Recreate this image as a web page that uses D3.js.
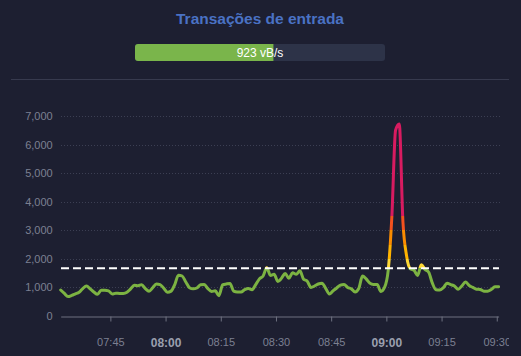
<!DOCTYPE html>
<html>
<head>
<meta charset="utf-8">
<script src="https://cdn.jsdelivr.net/npm/d3@7"></script>
<style>
  html, body { margin: 0; padding: 0; background: #1d1f31; }
  svg { display: block; }
  text { font-family: "Liberation Sans", Arial, Helvetica, sans-serif; }
</style>
</head>
<body>
<svg id="chart" width="521" height="356"></svg>
<script>
// ---- Data ----
const titleText = "Transações de entrada";
const currentRateLabel = "923 vB/s";
const currentRate = 923;
const rateMax = 1667;          // full-bar value (bar is ~55% full)
const thresholdValue = 1667;   // dashed mark line
const startTime = "07:31:30";  // first sample, one sample per minute
const values = [
  910, 790, 680, 720, 775, 830, 960, 1050, 950, 840,
  760, 900, 900, 880, 770, 800, 790, 790, 830, 950,
  1080, 1060, 1095, 960, 870, 990, 1120, 1100, 970, 830,
  870, 1100, 1430, 1400, 1190, 990, 950, 980, 1090, 1100,
  960, 860, 880, 710, 1090, 1120, 1140, 870, 840, 840,
  920, 960, 920, 1100, 1300, 1400, 1690, 1420, 1460, 1210,
  1320, 1490, 1320, 1510, 1460, 1580, 1290, 1220, 1000, 1050,
  1120, 1150, 970, 770, 880, 980, 1080, 1100, 1000, 950,
  840, 960, 1400, 1300, 1150, 1100, 1100, 860, 1000, 1600,
  3500, 6500, 6720, 3300, 2100, 1650, 1600, 1420, 1790, 1630,
  1530, 1150, 920, 910, 990, 1150, 1100, 1050, 940, 1050,
  1190, 1070, 1000, 940, 930, 870, 870, 930, 1020, 1025
];
const yTicks = [0, 1000, 2000, 3000, 4000, 5000, 6000, 7000];
const xTickLabels = ["07:45", "08:00", "08:15", "08:30", "08:45", "09:00", "09:15", "09:30"];
const boldTickLabels = ["08:00", "09:00"];
const pieceBounds = [0, 1667, 2000, 2500, 3000, 3500, 7000];
const pieceColors = ["#7CB342", "#FDD835", "#FFB300", "#FB8C00", "#F4511E", "#D81B60"];

// ---- Setup ----
const svg = d3.select("#chart");
const parse = d3.timeParse("%Y-%m-%d %H:%M:%S");
const t0 = parse("2024-01-01 " + startTime);
const data = values.map((v, i) => ({ t: new Date(t0.getTime() + i * 60000), v }));

const x = d3.scaleTime()
  .domain([t0, data[data.length - 1].t])
  .range([60.7, 498.6]);
const y = d3.scaleLinear().domain([0, 7000]).range([316, 116]);

// ---- Title ----
svg.append("text")
  .attr("x", 260).attr("y", 24)
  .attr("text-anchor", "middle")
  .attr("fill", "#4a72c4")
  .attr("font-size", 15.5)
  .attr("font-weight", "bold")
  .text(titleText);

// ---- Progress bar ----
const bar = d3.scaleLinear().domain([0, rateMax]).range([0, 250]);
svg.append("rect")
  .attr("x", 135).attr("y", 44).attr("width", 250).attr("height", 17)
  .attr("rx", 3).attr("fill", "#2d3348");
svg.append("clipPath").attr("id", "barclip")
  .append("rect").attr("x", 135).attr("y", 44).attr("width", 250).attr("height", 17).attr("rx", 3);
svg.append("rect")
  .attr("clip-path", "url(#barclip)")
  .attr("x", 135).attr("y", 44).attr("width", bar(currentRate)).attr("height", 17)
  .attr("fill", "#7ab54b");
svg.append("text")
  .attr("x", 260).attr("y", 56.5)
  .attr("text-anchor", "middle")
  .attr("fill", "#ffffff")
  .attr("font-size", 12)
  .text(currentRateLabel);

// ---- Divider ----
svg.append("line")
  .attr("x1", 11).attr("x2", 509).attr("y1", 79.5).attr("y2", 79.5)
  .attr("stroke", "#373a4e").attr("stroke-width", 1);

// ---- Grid lines ----
svg.append("g")
  .selectAll("line")
  .data(yTicks.filter(d => d > 0))
  .join("line")
  .attr("x1", 61).attr("x2", 500)
  .attr("y1", d => Math.round(y(d)) + 0.5).attr("y2", d => Math.round(y(d)) + 0.5)
  .attr("stroke", "#3c3f53")
  .attr("stroke-dasharray", "1,2");

// ---- Y axis ----
const yAxis = svg.append("g")
  .attr("transform", "translate(60.7,0)")
  .call(d3.axisLeft(y).tickValues(yTicks).tickFormat(d3.format(",")).tickSize(0).tickPadding(8));
yAxis.select(".domain").remove();
yAxis.selectAll("text")
  .attr("fill", "#7c8091")
  .attr("font-size", 11)
  .attr("font-family", "'Liberation Sans', Arial, sans-serif");

// ---- X axis ----
svg.append("clipPath").attr("id", "xclip")
  .append("rect").attr("x", 0).attr("y", 290).attr("width", 509).attr("height", 66);
const tickDates = xTickLabels.map(s => parse("2024-01-01 " + s + ":00"));
const fmt = d3.timeFormat("%H:%M");
const xWrap = svg.append("g").attr("clip-path", "url(#xclip)");
const xAxis = xWrap.append("g")
  .attr("transform", "translate(0,316.5)")
  .call(d3.axisBottom(x).tickValues(tickDates).tickFormat(fmt).tickSize(5).tickSizeOuter(0).tickPadding(17));
xAxis.select(".domain").attr("stroke", "#6e7180");
xAxis.selectAll(".tick line").attr("stroke", "#6e7180");
xAxis.selectAll("text")
  .attr("fill", d => boldTickLabels.includes(fmt(d)) ? "#9a9fae" : "#7c8091")
  .attr("font-weight", d => boldTickLabels.includes(fmt(d)) ? "bold" : "normal")
  .attr("font-size", d => boldTickLabels.includes(fmt(d)) ? 12 : 11)
  .attr("font-family", "'Liberation Sans', Arial, sans-serif");

// ---- Piecewise colour gradient ----
const grad = svg.append("defs").append("linearGradient")
  .attr("id", "pieces")
  .attr("gradientUnits", "userSpaceOnUse")
  .attr("x1", 0).attr("x2", 0)
  .attr("y1", y(0)).attr("y2", y(7000));
pieceColors.forEach((c, i) => {
  grad.append("stop").attr("offset", pieceBounds[i] / 7000).attr("stop-color", c);
  grad.append("stop").attr("offset", pieceBounds[i + 1] / 7000).attr("stop-color", c);
});

// ---- Line ----
const line = d3.line().x(d => x(d.t)).y(d => y(d.v)).curve(d3.curveMonotoneX);
svg.append("path")
  .datum(data)
  .attr("d", line)
  .attr("fill", "none")
  .attr("stroke", "url(#pieces)")
  .attr("stroke-width", 3)
  .attr("stroke-linejoin", "round")
  .attr("stroke-linecap", "round");

// ---- Threshold dashed line ----
svg.append("line")
  .attr("x1", 61).attr("x2", 499)
  .attr("y1", y(thresholdValue)).attr("y2", y(thresholdValue))
  .attr("stroke", "#ffffff")
  .attr("stroke-width", 2)
  .attr("stroke-dasharray", "8,4");
</script>
</body>
</html>
